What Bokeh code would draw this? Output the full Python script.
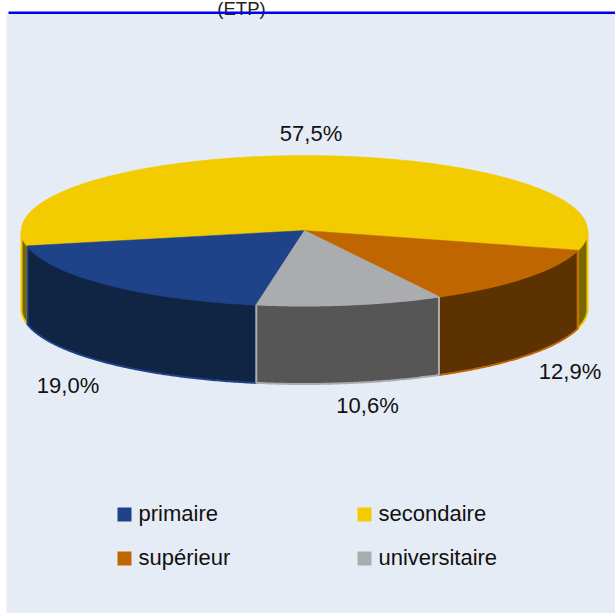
import numpy as np
from bokeh.plotting import figure
from bokeh.embed import file_html
from bokeh.resources import INLINE
from bokeh.core.properties import value

categories = ["primaire", "secondaire", "supérieur", "universitaire"]
shares = [19.0, 57.5, 12.9, 10.6]
share_labels = ["19,0%", "57,5%", "12,9%", "10,6%"]
top_colors = ["#1F4388", "#F2CB00", "#BF6600", "#ABACB0"]
wall_colors = ["#102444", "#7A6600", "#5C3200", "#565656"]
title_tail = "(ETP)"

W, H = 615, 613
CX, CY, RX, RY, DEPTH = 304, 230, 283, 75, 78.5
START = 15.2  # screen-clockwise angle where "supérieur" begins

p = figure(width=W, height=H, output_backend="svg", toolbar_location=None,
           x_range=(0, W), y_range=(H, 0), min_border=0,
           x_axis_location=None, y_axis_location=None, tools="",
           outline_line_color=None, background_fill_color="white",
           border_fill_color="white",
           styles={"position": "absolute", "left": "0px", "top": "0px"})
p.grid.visible = False

# background panel and rule
p.quad(left=[6], right=[W], top=[13], bottom=[H], fill_color="#E6ECF5", line_color=None)
p.text(x=[241], y=[8], text=[title_tail], text_align="center", text_baseline="alphabetic",
       text_font=value("Liberation Sans"), text_font_size="18.5px", text_color="#222222")
p.quad(left=[8], right=[W], top=[11], bottom=[13.4], fill_color="#0000E0", line_color=None)

# slice angles, in stacking order supérieur, universitaire, primaire, secondaire
order = [2, 3, 0, 1]
spans = {}
a = START
for i in order:
    b = a + shares[i] / sum(shares) * 360
    spans[i] = (a, b)
    a = b


def arc(a0, a1):
    t = np.radians(np.linspace(a0, a1, max(int(abs(a1 - a0) * 2), 2)))
    return CX + RX * np.cos(t), CY + RY * np.sin(t)


def wall(i, a0, a1):
    x, y = arc(a0, a1)
    p.patch(np.r_[x, x[::-1]], np.r_[y, y[::-1] + DEPTH], fill_color=wall_colors[i],
            line_color=top_colors[i], line_width=2)


# front walls, back to front
a0, a1 = spans[1]
wall(1, a0, 180)
wall(1, 360, a1)
for i in (2, 0, 3):
    wall(i, *spans[i])

# top faces
for i in (1, 2, 0, 3):
    x, y = arc(*spans[i])
    p.patch(np.r_[CX, x], np.r_[CY, y], fill_color=top_colors[i], line_color=top_colors[i], line_width=0.5)

# value labels
label_x = [67.5, 310.5, 569.5, 367]
label_y = [385, 133, 371, 405]
p.text(x=label_x, y=label_y, text=share_labels, text_align="center", text_baseline="middle",
       text_font=value("Liberation Sans"), text_font_size="22px", text_color="#111111")

# legend
swatch_x = [124, 364, 124, 364]
swatch_y = [514, 514, 558, 558]
label_row_y = [513, 513, 557, 557]
p.rect(x=swatch_x, y=swatch_y, width=14, height=14, fill_color=top_colors, line_color=None)
p.text(x=[s + 14 for s in swatch_x], y=label_row_y, text=categories, text_baseline="middle",
       text_font=value("Liberation Sans"), text_font_size="22px", text_color="#111111")

open("out.html", "w").write(file_html(p, INLINE))
